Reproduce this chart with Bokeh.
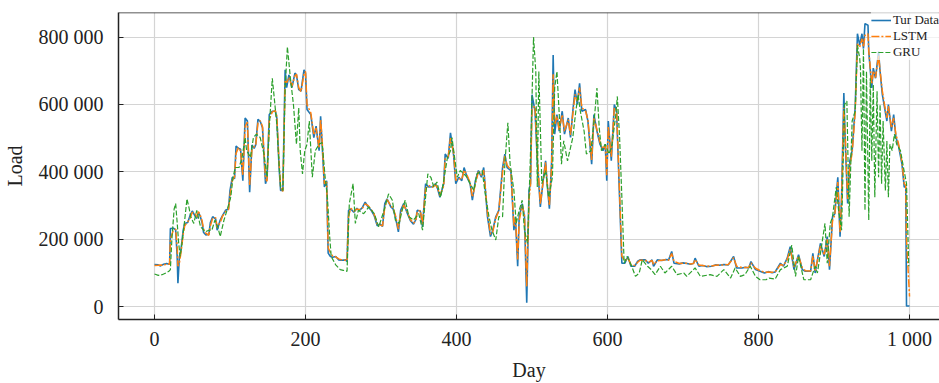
from bokeh.plotting import figure
from bokeh.models import Range1d, FixedTicker, CustomJSTickFormatter, Span
from bokeh.embed import file_html
from bokeh.resources import INLINE

# ---- data (load values in thousands) ----
day_actual = [0, 5, 8, 12, 16, 19, 20, 21, 25, 28, 30, 31, 33, 35, 38, 40, 44, 47, 50, 54, 56, 58, 60, 63, 65, 68, 72, 74, 77, 81,
              83, 87, 90, 94, 98, 100, 103, 106, 108, 111, 114, 117, 120, 123, 126, 129, 132, 134, 137, 140, 143, 147, 149, 152, 156, 160, 162, 165, 167, 170,
              173, 175, 178, 182, 186, 188, 191, 194, 198, 200, 202, 207, 211, 214, 218, 220, 222, 225, 228, 230, 233, 236, 240, 244, 248, 253, 255, 257, 260, 264,
              268, 271, 275, 279, 283, 287, 291, 295, 299, 302, 305, 308, 313, 316, 319, 323, 326, 330, 335, 339, 343, 346, 348, 352, 355, 359, 363, 368, 372, 375,
              378, 383, 385, 389, 392, 396, 399, 403, 407, 410, 414, 418, 421, 425, 429, 433, 436, 441, 445, 448, 452, 456, 461, 464, 467, 472, 476, 478, 481, 483,
              487, 490, 493, 496, 498, 500, 504, 507, 511, 515, 518, 520, 523, 526, 528, 530, 533, 536, 540, 543, 548, 551, 554, 557, 560, 563, 566, 571, 574, 579,
              582, 586, 590, 594, 597, 599, 601, 605, 609, 612, 615, 619, 623, 627, 631, 636, 640, 643, 650, 654, 659, 661, 666, 672, 677, 681, 685, 688, 695, 700,
              705, 710, 714, 716, 721, 726, 731, 738, 743, 748, 754, 760, 767, 771, 778, 783, 787, 790, 796, 802, 808, 813, 818, 822, 829, 833, 838, 842, 847, 853,
              858, 862, 869, 872, 875, 882, 887, 891, 894, 898, 901, 905, 908, 910, 913, 915, 918, 921, 924, 928, 931, 934, 937, 939, 941, 945, 946, 950, 952, 955,
              959, 961, 964, 967, 970, 972, 976, 979, 982, 985, 990, 993, 995, 996, 1000]

load_actual_k = [125, 124, 121, 126, 128, 126, 127, 232, 233, 228, 150, 70, 150, 168, 227, 247, 250, 270, 284, 268, 262, 280, 272, 250, 220, 213, 215, 250, 267, 260,
                 227, 257, 270, 286, 290, 345, 384, 380, 477, 470, 467, 374, 560, 551, 340, 480, 470, 480, 556, 550, 531, 365, 380, 570, 580, 580, 560, 413, 345, 345,
                 703, 650, 688, 650, 693, 688, 644, 640, 703, 693, 585, 570, 502, 536, 463, 565, 482, 355, 374, 159, 149, 147, 149, 139, 138, 139, 134, 286, 290, 280,
                 292, 285, 293, 310, 296, 286, 270, 240, 245, 238, 306, 320, 296, 290, 267, 222, 286, 306, 276, 255, 245, 258, 286, 284, 237, 365, 355, 356, 365, 350,
                 325, 365, 453, 440, 516, 453, 365, 384, 374, 413, 384, 365, 316, 374, 404, 384, 413, 267, 208, 227, 267, 286, 413, 453, 413, 404, 227, 267, 120, 267,
                 306, 267, 12, 345, 365, 629, 580, 433, 296, 380, 433, 365, 291, 433, 747, 512, 570, 521, 580, 512, 560, 502, 580, 644, 600, 663, 580, 585, 551, 423,
                 570, 521, 482, 463, 482, 374, 551, 433, 600, 580, 384, 129, 129, 149, 120, 120, 135, 139, 139, 129, 139, 120, 139, 137, 140, 139, 164, 129, 127, 130,
                 128, 126, 129, 144, 120, 122, 119, 120, 124, 123, 125, 124, 149, 115, 115, 117, 115, 134, 110, 105, 100, 104, 101, 103, 129, 120, 144, 178, 110, 154,
                 110, 105, 105, 158, 100, 188, 149, 208, 110, 267, 276, 384, 208, 325, 634, 482, 306, 433, 463, 590, 810, 776, 810, 766, 840, 835, 757, 649, 708, 678,
                 757, 698, 629, 590, 551, 600, 521, 570, 502, 482, 423, 355, 355, 2, 2]

load_lstm_k = [122, 123, 124, 122, 127, 127, 126, 200, 228, 230, 180, 120, 130, 160, 215, 240, 252, 262, 280, 275, 265, 282, 276, 255, 230, 218, 212, 240, 262, 264,
               235, 250, 268, 282, 288, 330, 375, 385, 455, 472, 462, 390, 535, 548, 360, 465, 475, 478, 545, 552, 535, 380, 372, 555, 578, 582, 565, 430, 355, 342,
               670, 665, 680, 655, 685, 690, 650, 638, 690, 698, 600, 575, 510, 530, 470, 555, 495, 365, 370, 175, 160, 150, 148, 142, 139, 138, 136, 270, 292, 283,
               290, 288, 291, 305, 300, 288, 274, 245, 242, 240, 295, 318, 300, 292, 272, 230, 278, 302, 280, 258, 248, 255, 282, 286, 245, 350, 360, 354, 362, 352,
               330, 358, 440, 445, 500, 460, 375, 380, 378, 405, 390, 368, 325, 365, 400, 390, 405, 280, 215, 222, 262, 284, 400, 448, 420, 405, 240, 262, 140, 255,
               300, 272, 60, 320, 360, 590, 595, 450, 305, 375, 428, 372, 300, 420, 690, 540, 565, 525, 570, 520, 555, 510, 570, 630, 610, 650, 590, 580, 555, 435,
               560, 525, 488, 468, 480, 390, 535, 445, 590, 585, 400, 150, 135, 145, 125, 122, 132, 138, 138, 132, 137, 125, 136, 138, 139, 138, 158, 135, 128, 129,
               129, 127, 128, 140, 124, 122, 120, 121, 123, 124, 124, 125, 145, 120, 116, 116, 116, 130, 114, 107, 102, 103, 102, 103, 125, 122, 140, 170, 118, 150,
               115, 107, 106, 150, 105, 180, 155, 200, 120, 255, 272, 370, 220, 310, 590, 500, 320, 420, 455, 575, 780, 770, 795, 770, 805, 810, 760, 660, 700, 680,
               745, 700, 640, 598, 560, 595, 530, 560, 510, 488, 430, 365, 360, 200, 30]

day_gru = [0, 5, 10, 15, 19, 21, 23, 26, 28, 30, 32, 34, 37, 39, 43, 46, 48, 52, 56, 61, 64, 67, 72, 76, 80, 84, 87, 92, 96, 101,
           104, 107, 112, 116, 120, 122, 127, 131, 135, 140, 145, 149, 152, 156, 159, 162, 165, 167, 170, 173, 176, 180, 184, 188, 191, 193, 196, 199, 202, 205,
           209, 213, 218, 222, 226, 229, 232, 234, 240, 246, 250, 255, 258, 263, 266, 270, 277, 284, 291, 297, 304, 310, 315, 319, 324, 328, 332, 337, 343, 350,
           355, 359, 362, 366, 370, 374, 379, 383, 388, 392, 394, 398, 401, 405, 410, 414, 418, 423, 427, 434, 438, 443, 447, 452, 456, 461, 464, 468, 471, 476,
           479, 483, 487, 490, 494, 497, 499, 502, 505, 507, 509, 513, 518, 522, 527, 530, 533, 537, 539, 542, 547, 551, 554, 558, 561, 564, 569, 572, 578, 583,
           586, 589, 592, 597, 602, 606, 611, 613, 616, 619, 622, 626, 632, 637, 642, 646, 653, 658, 663, 670, 676, 685, 692, 701, 705, 716, 723, 736, 745, 754,
           763, 769, 776, 782, 789, 796, 802, 810, 814, 822, 829, 838, 844, 849, 853, 860, 869, 875, 878, 884, 888, 891, 895, 898, 903, 906, 910, 914, 917, 920,
           924, 928, 931, 934, 935, 937, 939, 941, 943, 946, 948, 950, 952, 954, 957, 959, 961, 963, 965, 968, 970, 972, 974, 977, 980, 983, 988, 992, 996, 999]

load_gru_k = [97, 93, 95, 100, 105, 110, 200, 290, 306, 250, 188, 149, 200, 237, 320, 290, 267, 247, 286, 237, 230, 222, 227, 227, 257, 235, 208, 257, 286, 325,
              384, 413, 413, 443, 502, 463, 443, 502, 512, 502, 453, 384, 531, 678, 610, 541, 420, 355, 345, 649, 771, 678, 600, 482, 590, 463, 394, 463, 482, 551,
              384, 463, 482, 487, 384, 325, 208, 149, 124, 110, 108, 105, 306, 365, 247, 286, 276, 296, 276, 237, 286, 335, 316, 257, 247, 286, 316, 267, 257, 276,
              227, 325, 394, 384, 355, 370, 325, 374, 443, 463, 502, 433, 384, 404, 394, 384, 365, 345, 394, 404, 335, 267, 227, 198, 267, 267, 423, 546, 423, 345,
              247, 286, 316, 227, 188, 384, 531, 800, 698, 355, 698, 365, 404, 325, 384, 649, 698, 531, 423, 492, 433, 472, 502, 580, 629, 580, 521, 453, 463, 570,
              649, 531, 463, 482, 453, 482, 570, 624, 502, 325, 129, 149, 120, 90, 100, 139, 120, 110, 95, 120, 100, 120, 95, 100, 90, 115, 90, 95, 90, 110,
              85, 115, 90, 95, 120, 90, 80, 80, 85, 82, 110, 120, 183, 90, 149, 80, 80, 120, 100, 188, 247, 129, 247, 267, 355, 286, 227, 600, 610, 267,
              551, 580, 776, 737, 708, 463, 766, 286, 698, 257, 678, 433, 659, 325, 639, 384, 600, 365, 551, 345, 492, 325, 482, 463, 512, 482, 463, 413, 365, 120]

x_ticks = [0, 200, 400, 600, 800, 1000]
y_ticks = [0, 200000, 400000, 600000, 800000]

load_actual = [v * 1000 for v in load_actual_k]
load_lstm = [v * 1000 for v in load_lstm_k]
load_gru = [v * 1000 for v in load_gru_k]

FONT = "Liberation Serif"
TXT = "#222222"

p = figure(width=939, height=383, output_backend="svg", toolbar_location=None,
           x_range=Range1d(-47.7, 1039.7), y_range=Range1d(-38000, 873000),
           min_border_left=118, min_border_right=0, min_border_top=12, min_border_bottom=61)
p.outline_line_color = None
p.background_fill_color = "white"
p.border_fill_color = "white"

p.line(day_actual, load_actual, line_color="#1f77b4", line_width=1.6, legend_label="Tur Data")
p.line(day_actual, load_lstm, line_color="#ff7f0e", line_width=1.5, line_dash="8 2 2 2", legend_label="LSTM")
p.line(day_gru, load_gru, line_color="#2ca02c", line_width=1.2, line_dash="5 2", legend_label="GRU")

p.add_layout(Span(location=873000, dimension="width", line_color=TXT, line_width=1.5))

fmt = CustomJSTickFormatter(code="return Math.round(tick).toString().replace(/\\B(?=(\\d{3})+(?!\\d))/g, ' ');")

for ax, ticks in ((p.xaxis[0], x_ticks), (p.yaxis[0], y_ticks)):
    ax.ticker = FixedTicker(ticks=ticks)
    ax.formatter = fmt
    ax.major_label_text_font = FONT
    ax.major_label_text_font_size = "20px"
    ax.major_label_text_color = TXT
    ax.axis_label_text_font = FONT
    ax.axis_label_text_font_size = "20px"
    ax.axis_label_text_font_style = "normal"
    ax.axis_label_text_color = TXT
    ax.axis_line_color = TXT
    ax.axis_line_width = 1.5
    ax.major_tick_in = 5
    ax.major_tick_out = 0
    ax.major_tick_line_color = TXT
    ax.minor_tick_line_color = None

p.xaxis.axis_label = "Day"
p.yaxis.axis_label = "Load"
p.xaxis.major_label_standoff = 8
p.yaxis.major_label_standoff = 15
p.xaxis.axis_label_standoff = 6
p.yaxis.axis_label_standoff = 10

p.grid.grid_line_color = "#d4d4d4"
p.grid.grid_line_width = 1.2

lg = p.legend[0]
lg.location = "top_right"
lg.label_text_font = FONT
lg.label_text_font_size = "13px"
lg.label_text_color = TXT
lg.glyph_width = 20
lg.glyph_height = 12
lg.label_height = 13
lg.label_standoff = 2
lg.spacing = 0
lg.padding = 2
lg.margin = 0
lg.border_line_color = None
lg.background_fill_alpha = 0.7

open("out.html", "w").write(file_html(p, INLINE))
